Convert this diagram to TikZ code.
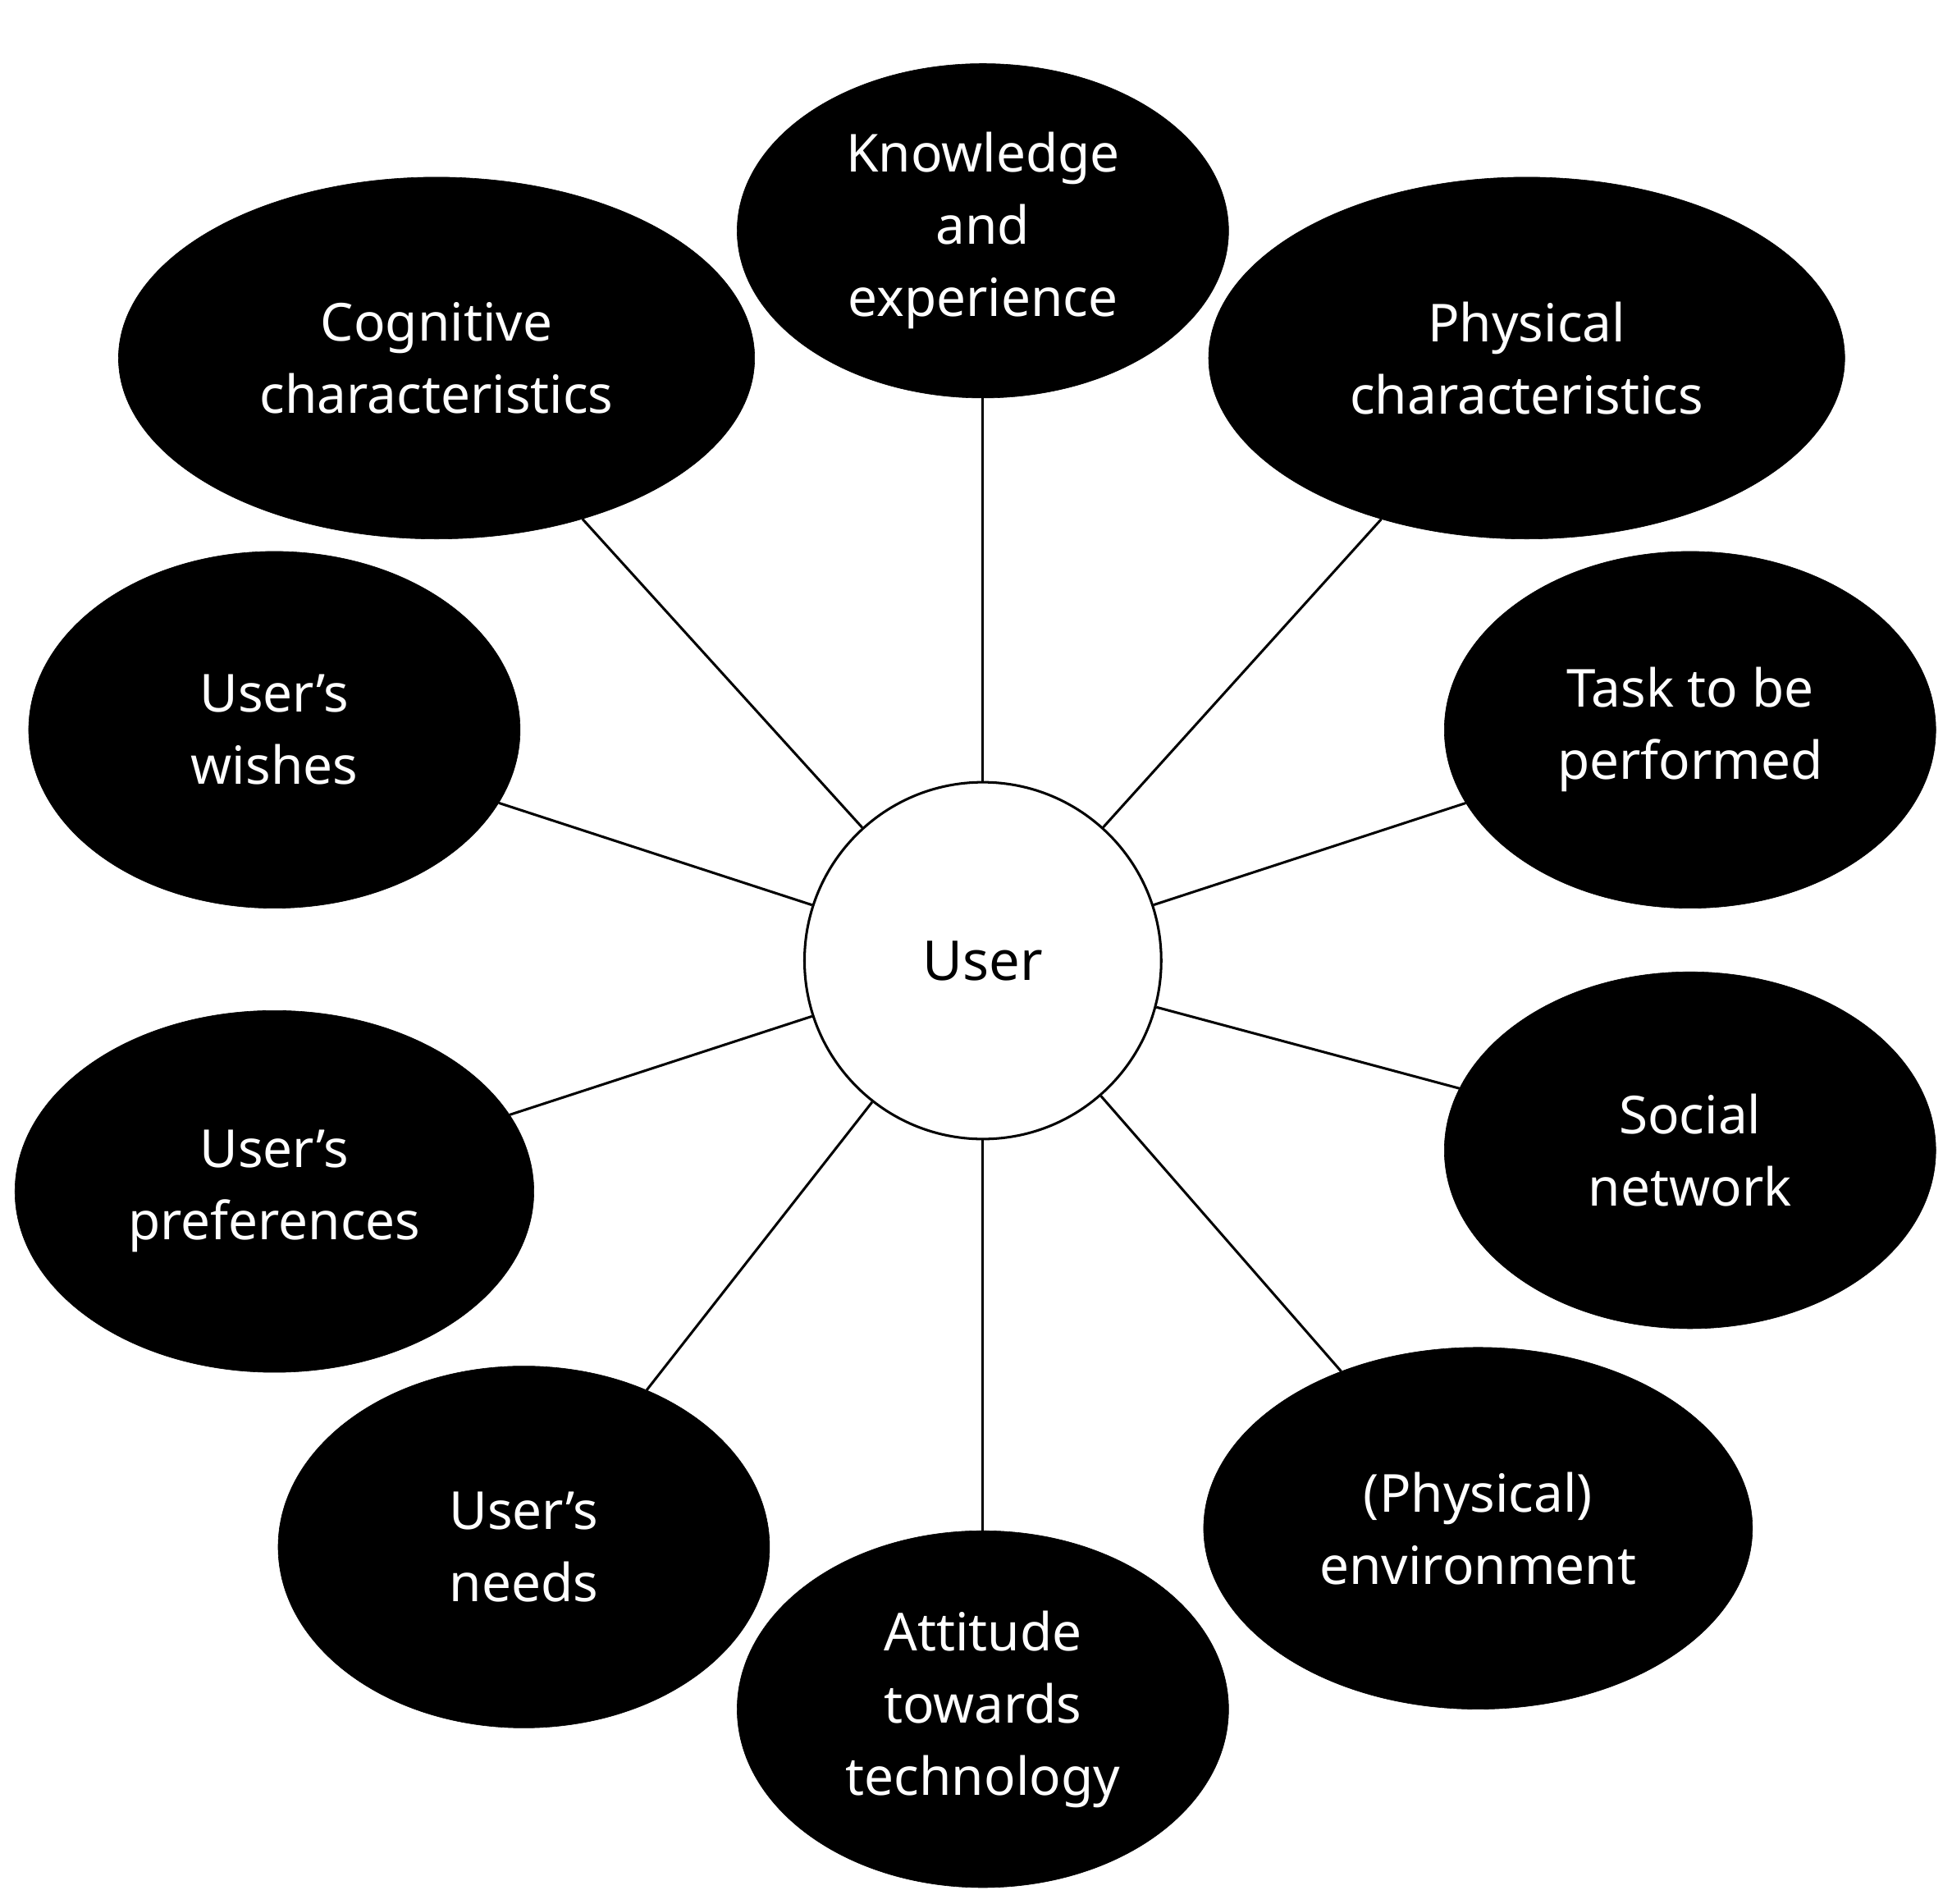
\documentclass[tikz,border=0pt]{standalone}
\usepackage{fontspec}
\setmainfont{Noto Sans}
\usetikzlibrary{shapes.geometric}
\begin{document}
\begin{tikzpicture}[x=1pt,y=-1pt,
  bub/.style={ellipse,fill=black,draw=black,text=white,inner sep=0pt,align=center,font=\fontsize{42}{58}\selectfont},
  con/.style={line width=2pt}]
\useasboundingbox (0,0) rectangle (1565,1526);
\node[circle,draw,line width=2pt,fill=white,minimum size=286pt,font=\fontsize{44}{58}\selectfont] (u) at (788,770) {User};
\newcommand{\bb}[6]{\node[bub,minimum width=#4pt,minimum height=#5pt] (#1) at (#2,#3) {#6};}
\bb{k}{788}{185}{394}{268}{Knowledge\\and\\experience}
\bb{c}{350}{287}{510}{290}{Cognitive\\characteristics}
\bb{p}{1224}{287}{510}{290}{Physical\\characteristics}
\bb{w}{220}{585}{394}{286}{User’s\\wishes}
\bb{t}{1355}{585}{394}{286}{Task to be\\performed}
\bb{pr}{220}{955}{416}{290}{User’s\\preferences}
\bb{s}{1355}{922}{394}{286}{Social\\network}
\bb{n}{420}{1240}{394}{290}{User’s\\needs}
\bb{a}{788}{1370}{394}{286}{Attitude\\towards\\technology}
\bb{e}{1185}{1225}{440}{290}{(Physical)\\environment}
\foreach \x in {k,c,p,w,t,pr,s,n,a,e} \draw[con] (u) -- (\x);
\end{tikzpicture}
\end{document}
